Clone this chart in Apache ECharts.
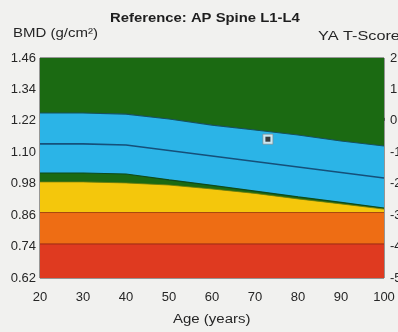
<!DOCTYPE html>
<html><head><meta charset="utf-8">
<script src="https://cdn.jsdelivr.net/npm/echarts@6/dist/echarts.min.js"></script>
<style>html,body{margin:0;padding:0;background:#f1f1ef;}#c{width:398px;height:332px;}</style>
</head><body><div id="c"></div>
<script>
// ---- data (BMD in g/cm²) ----
const ages = [20, 30, 40, 50, 60, 70, 80, 90, 100];
const upperBand = [1.250, 1.250, 1.246, 1.227, 1.204, 1.185, 1.166, 1.143, 1.124];
const refCurve  = [1.132, 1.132, 1.128, 1.107, 1.086, 1.065, 1.044, 1.023, 1.002];
const lowerBand = [1.021, 1.021, 1.017, 0.995, 0.974, 0.952, 0.930, 0.909, 0.887];
const yellowTop = [0.987, 0.987, 0.983, 0.975, 0.960, 0.943, 0.922, 0.903, 0.883];
const orangeTop = [0.87, 0.87, 0.87, 0.87, 0.87, 0.87, 0.87, 0.87, 0.87];
const redTop    = [0.75, 0.75, 0.75, 0.75, 0.75, 0.75, 0.75, 0.75, 0.75];
const plotTop   = [1.46, 1.46, 1.46, 1.46, 1.46, 1.46, 1.46, 1.46, 1.46];
const patientAge = [73];
const patientBmd = [1.15];
const bmdTicks = ['0.62', '0.74', '0.86', '0.98', '1.10', '1.22', '1.34', '1.46'];
const tScoreTicks = ['-5', '-4', '-3', '-2', '-1', '0', '1', '2'];
const youngAdultMean = 1.22, sd = 0.12;

const toT = v => (v - youngAdultMean) / sd;
const pts = arr => ages.map((a, i) => [a, toT(arr[i])]);

const chart = echarts.init(document.getElementById('c'), null, {renderer: 'canvas'});

function band(arr, color, lineColor, lineWidth, z) {
  return {
    type: 'line', data: pts(arr), symbol: 'none', smooth: false, z: z,
    lineStyle: {color: lineColor, width: lineWidth},
    areaStyle: {color: color, opacity: 1, origin: 'start'},
    silent: true, animation: false
  };
}

const GREEN = '#1b6a12', BLUE = '#2bb4e7', YELLOW = '#f4c70c', ORANGE = '#ee6d14', RED = '#df3a20';
const FONT = 'Liberation Sans, Arial, sans-serif';
const labelStyle = {color: '#262626', fontSize: 13, fontFamily: FONT};

chart.setOption({
  backgroundColor: '#f1f1ef',
  animation: false,
  grid: {left: 40, right: 14, top: 58, bottom: 54, show: true, borderColor: '#3a3a3a', borderWidth: 1,
         containLabel: false, outerBoundsMode: 'none'},
  xAxis: {
    type: 'value', min: 20, max: 100, interval: 10,
    axisLine: {show: false}, splitLine: {show: false},
    axisTick: {show: true, inside: true, length: 3, lineStyle: {color: '#555'}},
    axisLabel: Object.assign({margin: 13}, labelStyle)
  },
  yAxis: [{
    type: 'value', min: -5, max: 2, interval: 1, position: 'left',
    axisLine: {show: false}, axisTick: {show: false}, splitLine: {show: false},
    axisLabel: Object.assign({margin: 4, formatter: v => bmdTicks[Math.round(v) + 5]}, labelStyle)
  }, {
    type: 'value', min: -5, max: 2, interval: 1, position: 'right',
    axisLine: {show: false}, axisTick: {show: false}, splitLine: {show: false},
    axisLabel: Object.assign({margin: 6, formatter: v => tScoreTicks[Math.round(v) + 5]}, labelStyle)
  }],
  series: [
    band(plotTop, GREEN, GREEN, 0, 1),
    band(upperBand, BLUE, '#17505e', 1.2, 2),
    band(lowerBand, GREEN, '#0f4a1a', 1.2, 3),
    band(yellowTop, YELLOW, '#6a7a10', 0.8, 4),
    band(orangeTop, ORANGE, '#a84a10', 1, 5),
    band(redTop, RED, '#9a2a14', 1, 6),
    {type: 'line', data: pts(refCurve), symbol: 'none', z: 7, silent: true,
     lineStyle: {color: '#15507a', width: 1.6}},
    {type: 'scatter', z: 8, symbol: 'rect', symbolSize: 10, silent: true,
     data: patientAge.map((a, i) => [a, toT(patientBmd[i])]),
     itemStyle: {color: '#f4f4f4', borderColor: '#888', borderWidth: 0.8}},
    {type: 'scatter', z: 9, symbol: 'rect', symbolSize: 5, silent: true,
     data: patientAge.map((a, i) => [a, toT(patientBmd[i])]),
     itemStyle: {color: '#111'}}
  ],
  graphic: [
    {type: 'text', x: 110, y: 11, scaleX: 1.1, style: {text: 'Reference: AP Spine L1-L4', fontSize: 13.5, fontWeight: 'bold', fontFamily: FONT, fill: '#1e1e1e'}},
    {type: 'text', x: 13, y: 27, scaleX: 1.2, style: {text: 'BMD (g/cm²)', fontSize: 12.5, fontFamily: FONT, fill: '#262626'}},
    {type: 'text', x: 318, y: 30, scaleX: 1.3, style: {text: 'YA T-Score', fontSize: 12.5, fontFamily: FONT, fill: '#262626'}},
    {type: 'text', x: 173, y: 314, scaleX: 1.25, style: {text: 'Age (years)', fontSize: 12, fontFamily: FONT, fill: '#262626'}}
  ]
});
</script></body></html>
